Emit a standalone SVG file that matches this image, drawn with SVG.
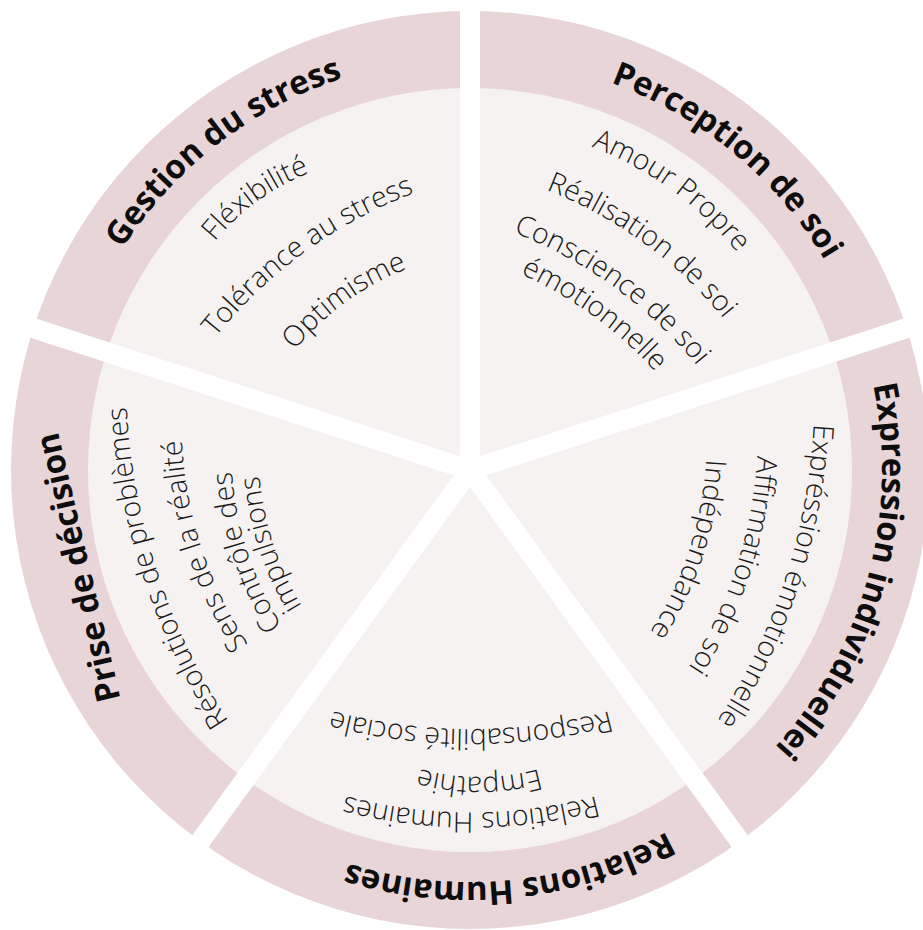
<svg xmlns="http://www.w3.org/2000/svg" width="923" height="930" viewBox="0 0 923 930">
<style>
.band{fill:#e8d5d7}
.inner{fill:#f6f2f2}
.gap{stroke:#ffffff;stroke-width:20;fill:none}
.title{font-family:"Open Sans","Noto Sans",sans-serif;font-weight:700;font-size:33px;fill:#0d0d0d}
.item{font-family:"Open Sans","Noto Sans",sans-serif;font-weight:300;font-size:28.5px;fill:#1a1a1a}
</style>
<defs>
<path id="tGestion" d="M58.3,453.8 A412,412 0 0 1 557.4,67.4"/>
<path id="tPerception" d="M396.3,64.6 A412,412 0 0 1 882.0,467.8"/>
<path id="tExpression" d="M808.3,234.9 A412,412 0 0 1 642.8,844.0"/>
<path id="tRelations" d="M810.2,702.4 A412,412 0 0 1 182.0,764.6"/>
<path id="p1" d="M362.0,148.4 A223,223 0 0 1 550.4,148.4"/>
<path id="p2" d="M268.0,240.2 A466,466 0 0 1 661.8,240.2"/>
<path id="p3" d="M353.1,286.7 A272,272 0 0 1 582.9,286.7"/>
<path id="p4" d="M322.4,157.5 A346,346 0 0 1 614.8,157.5"/>
<path id="p5" d="M295.8,224.4 A428,428 0 0 1 657.6,224.4"/>
<path id="p6" d="M292.6,278.7 A441,441 0 0 1 665.4,278.7"/>
<path id="p7" d="M307.7,311.0 A405.4,405.4 0 0 1 650.3,311.0"/>
<path id="p8" d="M223.4,192.7 A598,598 0 0 1 728.8,192.7"/>
<path id="p9" d="M293.8,227.9 A439,439 0 0 1 664.8,227.9"/>
<path id="p10" d="M328.0,270.1 A355,355 0 0 1 628.0,270.1"/>
<path id="p11" d="M263.4,173.2 A487,487 0 0 1 675.0,173.2"/>
<path id="p12" d="M365.7,184.1 A225,225 0 0 1 555.9,184.1"/>
<path id="p13" d="M241.8,261.3 A538,538 0 0 1 696.6,261.3"/>
<path id="p14" d="M201.3,200.9 A638,638 0 0 1 740.5,200.9"/>
<path id="p15" d="M309.7,228.4 A403,403 0 0 1 650.3,228.4"/>
<path id="p16" d="M322.0,263.8 A329,329 0 0 1 600.0,263.8"/>
<path id="p17" d="M333.4,288.4 A301.9,301.9 0 0 1 588.6,288.4"/>
</defs>
<rect width="923" height="930" fill="#ffffff"/>
<g id="disc">
<circle cx="470" cy="470" r="459" class="band"/>
<circle cx="470" cy="470" r="382" class="inner"/>
</g>
<g id="connectors">
<line x1="470" y1="470" x2="470" y2="-10" class="gap"/>
<line x1="470" y1="470" x2="13.5" y2="321.7" class="gap"/>
<line x1="470" y1="470" x2="187.9" y2="858.3" class="gap"/>
<line x1="470" y1="470" x2="752.1" y2="858.3" class="gap"/>
<line x1="470" y1="470" x2="926.5" y2="321.7" class="gap"/>
</g>
<g id="gestion-du-stress">
<text class="title"><textPath href="#tGestion" startOffset="50%" text-anchor="middle">Gestion du stress</textPath></text>
<g transform="rotate(-36 470 470)">
<text class="item"><textPath href="#p1" startOffset="50%" text-anchor="middle">Fléxibilité</textPath></text>
<text class="item"><textPath href="#p2" startOffset="50%" text-anchor="middle">Tolérance au stress</textPath></text>
<text class="item"><textPath href="#p3" startOffset="50%" text-anchor="middle">Optimisme</textPath></text>
</g>
</g>
<g id="perception-de-soi">
<text class="title"><textPath href="#tPerception" startOffset="50%" text-anchor="middle">Perception de soi</textPath></text>
<g transform="rotate(36 470 470)">
<text class="item"><textPath href="#p4" startOffset="50%" text-anchor="middle">Amour Propre</textPath></text>
<text class="item"><textPath href="#p5" startOffset="50%" text-anchor="middle">Réalisation de soi</textPath></text>
<text class="item"><textPath href="#p6" startOffset="50%" text-anchor="middle">Conscience de soi</textPath></text>
<text class="item"><textPath href="#p7" startOffset="50%" text-anchor="middle">émotionnelle</textPath></text>
</g>
</g>
<g id="expression-individuelle">
<text class="title"><textPath href="#tExpression" startOffset="50%" text-anchor="middle">Expression individuellei</textPath></text>
<g transform="rotate(108 470 470)">
<text class="item"><textPath href="#p8" startOffset="50%" text-anchor="middle">Expréssion émotionnelle</textPath></text>
<text class="item"><textPath href="#p9" startOffset="50%" text-anchor="middle">Affirmation de soi</textPath></text>
<text class="item"><textPath href="#p10" startOffset="50%" text-anchor="middle">Indépendance</textPath></text>
</g>
</g>
<g id="relations-humaines">
<text class="title"><textPath href="#tRelations" startOffset="50%" text-anchor="middle">Relations Humaines</textPath></text>
<g transform="rotate(180 470 470)">
<text class="item"><textPath href="#p11" startOffset="50%" text-anchor="middle">Relations Humaines</textPath></text>
<text class="item"><textPath href="#p12" startOffset="50%" text-anchor="middle">Empathie</textPath></text>
<text class="item"><textPath href="#p13" startOffset="50%" text-anchor="middle">Responsabilité sociale</textPath></text>
</g>
</g>
<g id="prise-de-decision">
<text class="title" transform="translate(89.2 565) rotate(-103.2)" text-anchor="middle">Prise de décision</text>
<g transform="rotate(-108 470 470)">
<text class="item"><textPath href="#p14" startOffset="50%" text-anchor="middle">Résolutions de problèmes</textPath></text>
<text class="item"><textPath href="#p15" startOffset="50%" text-anchor="middle">Sens de la réalité</textPath></text>
<text class="item"><textPath href="#p16" startOffset="50%" text-anchor="middle">Contrôle des</textPath></text>
<text class="item"><textPath href="#p17" startOffset="50%" text-anchor="middle">impulsions</textPath></text>
</g>
</g>
</svg>
